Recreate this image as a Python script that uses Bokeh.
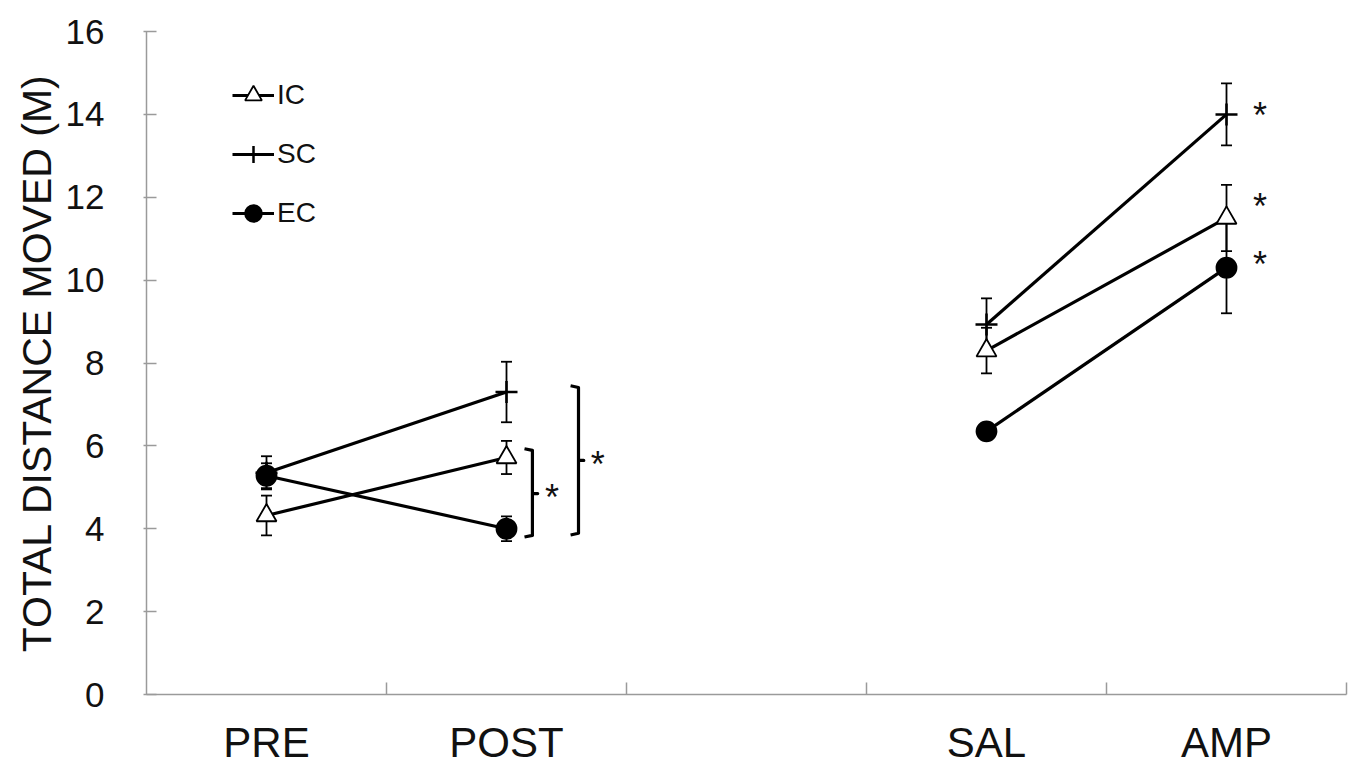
from bokeh.plotting import figure
from bokeh.models import (Range1d, FixedTicker, Legend, LegendItem, Whisker,
                          TeeHead, ColumnDataSource)
from bokeh.embed import file_html
from bokeh.resources import INLINE
from bokeh.core.properties import value

# ---- data -------------------------------------------------------------
conditions = ["PRE", "POST", "SAL", "AMP"]
cond_x = [0.5, 1.5, 3.5, 4.5]          # slot centres (slot 2 is an empty gap)
slot_edges = [1, 2, 3, 4, 5]

ic_mean = [4.32, 5.72, 8.30, 11.50]
ic_err = [0.48, 0.40, 0.55, 0.80]
sc_mean = [5.35, 7.30, 8.93, 14.00]
sc_err = [0.40, 0.73, 0.63, 0.75]
ec_mean = [5.28, 4.00, 6.35, 10.30]
ec_err = [0.30, 0.30, 0.10, 1.10]

y_ticks = [0, 2, 4, 6, 8, 10, 12, 14, 16]

# significance brackets between groups at POST: x, top, bottom, middle
bracket_x = [1.608, 1.800]
bracket_top = [5.89, 7.41]
bracket_bottom = [3.84, 3.89]
bracket_mid = [4.85, 5.65]
bracket_star_x = [1.69, 1.88]

# significance marks next to AMP
amp_star_x = [4.64, 4.64, 4.64]
amp_star_y = [14.05, 11.85, 10.45]

FONT = "Liberation Sans"
AXIS_GREY = "#9a9a9a"

p = figure(width=1357, height=768, output_backend="svg", toolbar_location=None,
           x_range=Range1d(0, 5), y_range=Range1d(0, 16),
           min_border_left=146, min_border_right=11,
           min_border_top=31, min_border_bottom=74)
p.outline_line_color = None
p.xgrid.visible = False
p.ygrid.visible = False
p.background_fill_color = "white"
p.border_fill_color = "white"

# x axis: labels at slot centres, short inward ticks at slot edges
xa = p.xaxis[0]
xa.ticker = FixedTicker(ticks=cond_x, minor_ticks=slot_edges)
xa.major_label_overrides = {x: c for x, c in zip(cond_x, conditions)}
xa.major_tick_line_color = None
xa.minor_tick_in = 12
xa.minor_tick_out = 0
xa.minor_tick_line_color = AXIS_GREY
xa.minor_tick_line_width = 1.5
xa.axis_line_color = AXIS_GREY
xa.axis_line_width = 1.5
xa.major_label_text_font = FONT
xa.major_label_text_font_size = "42px"
xa.major_label_text_color = "#111111"
xa.major_label_standoff = 18

ya = p.yaxis[0]
ya.ticker = FixedTicker(ticks=y_ticks, minor_ticks=[])
ya.major_tick_in = 10
ya.major_tick_out = 3
ya.major_tick_line_color = AXIS_GREY
ya.major_tick_line_width = 1.5
ya.axis_line_color = AXIS_GREY
ya.axis_line_width = 1.5
ya.major_label_text_font = FONT
ya.major_label_text_font_size = "35px"
ya.major_label_text_color = "#111111"
ya.major_label_standoff = 39
ya.axis_label = "TOTAL DISTANCE MOVED (M)"
ya.axis_label_text_font = FONT
ya.axis_label_text_font_size = "41px"
ya.axis_label_text_font_style = "normal"
ya.axis_label_text_color = "#111111"
ya.axis_label_standoff = 3

# ---- series -------------------------------------------------------------
series = [
    ("IC", ic_mean, ic_err, "triangle", 20, "white"),
    ("SC", sc_mean, sc_err, "cross", 22, "black"),
    ("EC", ec_mean, ec_err, "circle", 20, "black"),
]

items = []
for name, mean, err, marker, size, fill in series:
    src = ColumnDataSource(dict(
        x=cond_x, y=mean,
        lo=[m - e for m, e in zip(mean, err)],
        hi=[m + e for m, e in zip(mean, err)],
    ))
    w = Whisker(source=src, base="x", lower="lo", upper="hi", dimension="height",
                line_color="black", line_width=1.8, level="underlay",
                upper_head=TeeHead(size=11, line_color="black", line_width=1.8),
                lower_head=TeeHead(size=11, line_color="black", line_width=1.8))
    p.add_layout(w)

    # the gap slot separates the two phases, so each phase is its own segment
    r_lines = []
    for a, b in [(0, 2), (2, 4)]:
        r_lines.append(p.line(cond_x[a:b], mean[a:b], line_color="black",
                              line_width=3.2))
    r_mark = p.scatter("x", "y", source=src, marker=marker, size=size,
                       fill_color=fill, line_color="black",
                       line_width=2.5 if marker == "cross" else 1.8)
    items.append(LegendItem(label=name, renderers=[r_lines[0], r_mark]))

# ---- significance brackets ------------------------------------------------
hook = 0.033
tip = 0.022
bx, by = [], []
for x, t, b, m in zip(bracket_x, bracket_top, bracket_bottom, bracket_mid):
    bx.append([x - hook, x, x, x + tip, x, x, x - hook])
    by.append([t + 0.04, t, m, m, m, b, b - 0.04])
p.multi_line(bx, by, line_color="black", line_width=3.2, line_join="round")

p.text(bracket_star_x, bracket_mid, text=["*", "*"], text_font=value(FONT),
       text_font_size="36px", text_align="center", text_baseline="alphabetic",
       y_offset=4, text_color="#111111")
p.text(amp_star_x, amp_star_y, text=["*", "*", "*"], text_font=value(FONT),
       text_font_size="36px", text_align="center", text_baseline="alphabetic",
       y_offset=3, text_color="#111111")

# ---- legend ---------------------------------------------------------------
legend = Legend(items=items, location=(86, 456), orientation="vertical",
                glyph_width=42, glyph_height=50, spacing=9, padding=0, margin=0,
                label_standoff=3, label_text_font=FONT,
                label_text_font_size="28px", label_text_color="#111111",
                border_line_color=None, background_fill_alpha=0)
p.add_layout(legend)

open("out.html", "w").write(file_html(p, INLINE))
